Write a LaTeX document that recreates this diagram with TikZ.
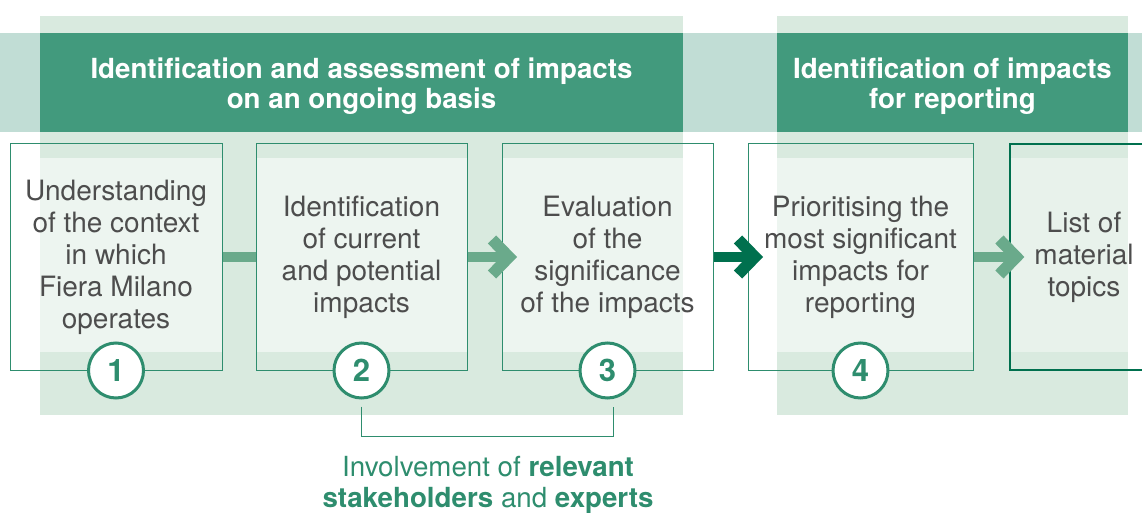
\documentclass[tikz,border=0pt]{standalone}
\usepackage{fontspec}
\setmainfont{TeX Gyre Heros}
\usetikzlibrary{positioning}
\definecolor{PanelGreen}{HTML}{D9EADF}
\definecolor{BandTeal}{HTML}{C1DDD5}
\definecolor{HeadGreen}{HTML}{429A7D}
\definecolor{LineGreen}{HTML}{2E8D6E}
\definecolor{ArrowLight}{HTML}{6AAA8B}
\definecolor{ArrowDark}{HTML}{00704E}
\definecolor{TextGray}{HTML}{4D4D4D}

\tikzset{
  stepbox/.style={draw=LineGreen, line width=1pt, minimum height=226pt, inner sep=0pt,
    align=center, text=TextGray, font=\fontsize{28}{32}\selectfont,
    path picture={\fill[white, opacity=#1] ([yshift=-14pt]path picture bounding box.north west)
      rectangle ([yshift=18pt]path picture bounding box.south east);}},
  stepbox/.default=0.55,
  numcirc/.style={circle, draw=LineGreen, line width=3pt, fill=white, minimum size=55pt,
    inner sep=0pt, text=LineGreen, font=\fontsize{31}{31}\selectfont\bfseries},
  header/.style={text=white, align=center, font=\fontsize{27.7}{30}\selectfont\bfseries},
  shaft/.style={line width=10pt},
  chev/.style={line width=11.5pt, miter limit=10},
}

\begin{document}
\begin{tikzpicture}[x=1pt, y=-1pt]
  \useasboundingbox (0,0) rectangle (1142,513);
  \clip (0,0) rectangle (1142,513);
  % background band and panels
  \fill[BandTeal] (0,33) rectangle (1142,132);
  \fill[PanelGreen] (40,16) rectangle (683,415);
  \fill[PanelGreen] (777,16) rectangle (1128,415);
  \fill[HeadGreen] (40,33) rectangle (683,132);
  \fill[HeadGreen] (777,33) rectangle (1128,132);
  \node[header] (h1) at (361.5,86.5) {Identification and assessment of impacts\\on an ongoing basis};
  \node[header] (h2) at (952.5,86.5) {Identification of impacts\\for reporting};

  % steps
  \node[stepbox, minimum width=212pt] (b1) at (116,257) {Understanding\\of the context\\in which\\Fiera Milano\\operates};
  \node[stepbox, minimum width=211pt] (b2) at (361.5,257) {Identification\\of current\\and potential\\impacts};
  \node[stepbox, minimum width=211pt] (b3) at (607.5,257) {Evaluation\\of the\\significance\\of the impacts};
  \node[stepbox, minimum width=225pt] (b4) at (860.5,257) {Prioritising the\\most significant\\impacts for\\reporting};
  \node[stepbox=0.4, draw=ArrowDark, line width=2.2pt, minimum width=148pt] (b5) at (1084,257) {List of\\material\\topics};

  % connectors
  \draw[shaft, ArrowLight] (b1.east) -- (b2.west);
  \foreach \a/\b/\c in {b2/b3/ArrowLight, b3/b4/ArrowDark, b4/b5/ArrowLight}{
    \draw[shaft, \c] (\a.east) -- ([xshift=4pt]\b.west);
    \draw[chev, \c] ([xshift=-9.5pt, yshift=17.5pt]\b.west) -- ([xshift=7.5pt]\b.west)
      -- ([xshift=-9.5pt, yshift=-17.5pt]\b.west);
  }

  % numbers
  \foreach \i in {1,...,4}
    \node[numcirc] (c\i) at (b\i.south) {\i};

  % stakeholders
  \draw[LineGreen, line width=1pt] ([yshift=-7pt]c2.south) -- ++(0,30) -| ([xshift=6pt, yshift=-7pt]c3.south);
  \node[text=LineGreen, align=center, font=\fontsize{27.7}{31}\selectfont] (inv) at (488,485)
    {Involvement of \textbf{relevant}\\\textbf{stakeholders} and \textbf{experts}};
\end{tikzpicture}
\end{document}
